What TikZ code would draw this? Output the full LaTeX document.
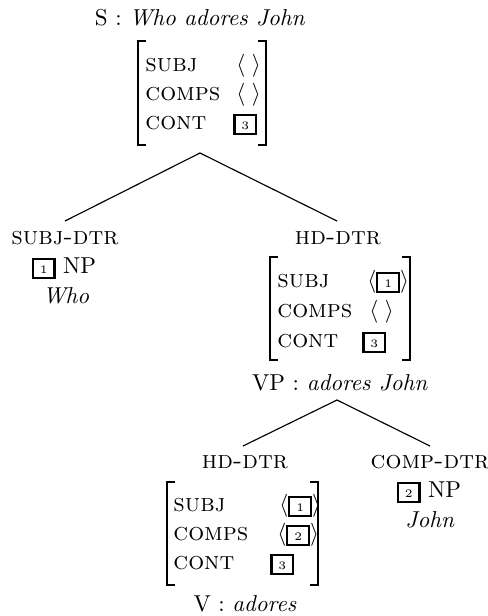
\documentclass[tikz,border=0pt]{standalone}
\newcommand{\tagbx}[1]{{\setlength{\fboxrule}{0.9pt}\setlength{\fboxsep}{0pt}\fbox{\makebox[8.5pt]{\rule[-1.8pt]{0pt}{7.5pt}\tiny #1}}}}
\begin{document}
\begin{tikzpicture}[x=0.4348pt,y=-0.4348pt,
  sc/.style={font=\fontsize{10.9}{13}\selectfont\scshape},
  lbl/.style={sc, anchor=base west, inner sep=0pt},
  val/.style={anchor=base west, inner sep=0pt},
  txt/.style={anchor=base, inner sep=0pt},
  conn/.style={line width=0.5pt},
  brk/.style={line width=0.45pt}]
\useasboundingbox (0,0) rectangle (488,616);

% ---------- top: S ----------
\node[txt] (stitle) at (200,25) {S : \textit{Who adores John}};
\draw[brk] (146,41) -- (138,41) -- (138,145) -- (146,145);
\draw[brk] (258,41) -- (266,41) -- (266,145) -- (258,145);
\node[lbl] (s-subj) at (145,71) {subj};
\node[lbl] (s-comps) at (145,100) {comps};
\node[lbl] (s-cont) at (145,129) {cont};
\node[val] (s-subjv) at (236,71) {$\langle\;\rangle$};
\node[val] (s-compsv) at (236,100) {$\langle\;\rangle$};
\node[val] (s-contv) at (233,129) {\tagbx{3}};

\coordinate (s-apex) at (200,153);
\coordinate (sd-top) at (65,221);
\coordinate (hd-top) at (337,221);
\draw[conn] (sd-top) -- (s-apex) -- (hd-top);

% ---------- subject daughter ----------
\node[txt, sc] (sd-lab) at (65,244) {subj-dtr};
\node[txt] (sd-np) at (64,273) {\tagbx{1}\ NP};
\node[txt] (sd-word) at (66,303) {\textit{Who}};

% ---------- head daughter VP ----------
\node[txt, sc] (hd-lab) at (338,244) {hd-dtr};
\draw[brk] (278,257) -- (270,257) -- (270,360) -- (278,360);
\draw[brk] (402,257) -- (410,257) -- (410,360) -- (402,360);
\node[lbl] (vp-subj) at (277,287) {subj};
\node[lbl] (vp-comps) at (277,317) {comps};
\node[lbl] (vp-cont) at (277,347) {cont};
\node[val] (vp-subjv) at (367,287) {$\langle$\tagbx{1}$\rangle$};
\node[val] (vp-compsv) at (369,317) {$\langle\;\rangle$};
\node[val] (vp-contv) at (362,347) {\tagbx{3}};
\node[txt] (vp-title) at (340,390) {VP : \textit{adores John}};

\coordinate (vp-apex) at (337,400);
\coordinate (vhd-top) at (243,446);
\coordinate (cd-top) at (430,446);
\draw[conn] (vhd-top) -- (vp-apex) -- (cd-top);

% ---------- head daughter V ----------
\node[txt, sc] (vhd-lab) at (245,468) {hd-dtr};
\draw[brk] (175,482) -- (167,482) -- (167,585) -- (175,585);
\draw[brk] (310,482) -- (318,482) -- (318,585) -- (310,585);
\node[lbl] (v-subj) at (173,511) {subj};
\node[lbl] (v-comps) at (173,540) {comps};
\node[lbl] (v-cont) at (173,569) {cont};
\node[val] (v-subjv) at (279,511) {$\langle$\tagbx{1}$\rangle$};
\node[val] (v-compsv) at (277,540) {$\langle$\tagbx{2}$\rangle$};
\node[val] (v-contv) at (270,569) {\tagbx{3}};
\node[txt] (v-title) at (245,611) {V : \textit{adores}};

% ---------- complement daughter ----------
\node[txt, sc] (cd-lab) at (430,468) {comp-dtr};
\node[txt] (cd-np) at (429,497) {\tagbx{2}\ NP};
\node[txt] (cd-word) at (430,527) {\textit{John}};
\end{tikzpicture}
\end{document}
